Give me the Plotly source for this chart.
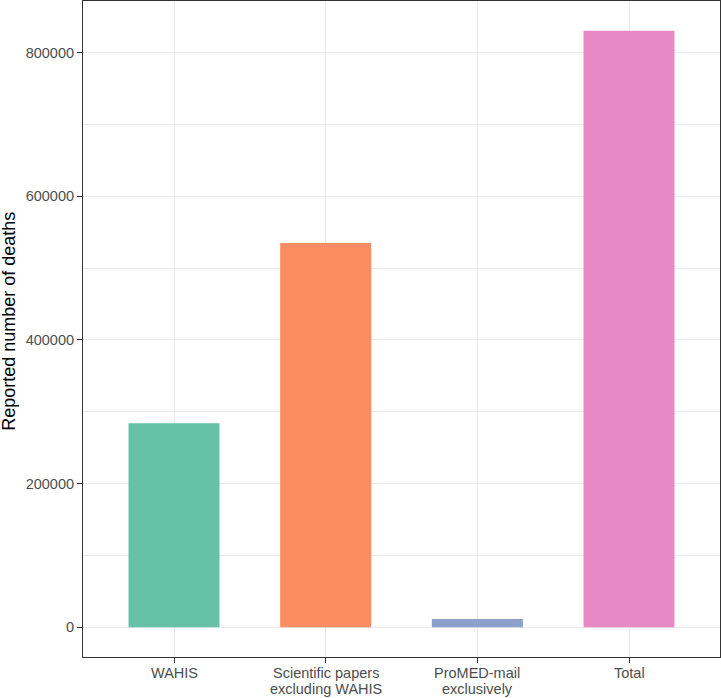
import plotly.graph_objects as go

categories = ["WAHIS", "Scientific papers<br>excluding WAHIS", "ProMED-mail<br>exclusively", "Total"]
deaths = [284000, 535000, 11500, 830500]
colors = ["#66C2A5", "#FC8D62", "#8DA0CB", "#E78AC3"]
y_ticks = [0, 200000, 400000, 600000, 800000]
y_tick_labels = ["0", "200000", "400000", "600000", "800000"]
y_title = "Reported number of deaths"

ymax = max(deaths)
fig = go.Figure(go.Bar(
    x=categories, y=deaths, marker=dict(color=colors, line=dict(width=0)),
    width=0.6, showlegend=False, hoverinfo="skip",
))

font_family = "Liberation Sans, Arial, sans-serif"
fig.update_layout(
    width=721, height=698, autosize=False,
    margin=dict(l=83, r=1, t=1, b=41),
    plot_bgcolor="white", paper_bgcolor="white",
    font=dict(family=font_family, color="#4D4D4D", size=14.5),
)
fig.update_xaxes(
    range=[-0.6, 3.6], automargin=False,
    showline=True, mirror=True, linecolor="#333333", linewidth=1.1,
    showgrid=True, gridcolor="#EBEBEB", gridwidth=1.1,
    ticks="outside", ticklen=5, tickcolor="#333333", tickwidth=1.1,
    showticklabels=False,
    zeroline=False,
)
fig.update_yaxes(
    range=[-0.05 * ymax, 1.05 * ymax], automargin=False,
    tickvals=y_ticks, ticktext=y_tick_labels,
    showline=True, mirror=True, linecolor="#333333", linewidth=1.1,
    showgrid=True, gridcolor="#EBEBEB", gridwidth=1.1,
    minor=dict(showgrid=True, gridcolor="#EBEBEB", gridwidth=0.55, dtick=100000, tick0=0),
    ticks="outside", ticklen=5, tickcolor="#333333", tickwidth=1.1,
    tickfont=dict(size=14.5, color="#4D4D4D"),
    zeroline=False,
)

# category labels (ggplot-style tighter line spacing)
for cat in categories:
    for i, line in enumerate(cat.split("<br>")):
        fig.add_annotation(
            x=cat, xref="x", y=0, yref="paper", yanchor="middle",
            yshift=-15.5 - 16 * i, text=line, showarrow=False,
            font=dict(size=14.5, color="#4D4D4D", family=font_family),
        )

fig.add_annotation(
    x=0, xref="paper", xshift=-74, xanchor="center",
    y=0.511, yref="paper", yanchor="middle",
    text=y_title, textangle=-90, showarrow=False,
    font=dict(size=18, color="black", family=font_family),
)
fig.write_html(
    "out.html",
    config={"responsive": False, "displayModeBar": False},
    post_script="document.body.style.margin='0';document.body.style.overflow='hidden';",
)
